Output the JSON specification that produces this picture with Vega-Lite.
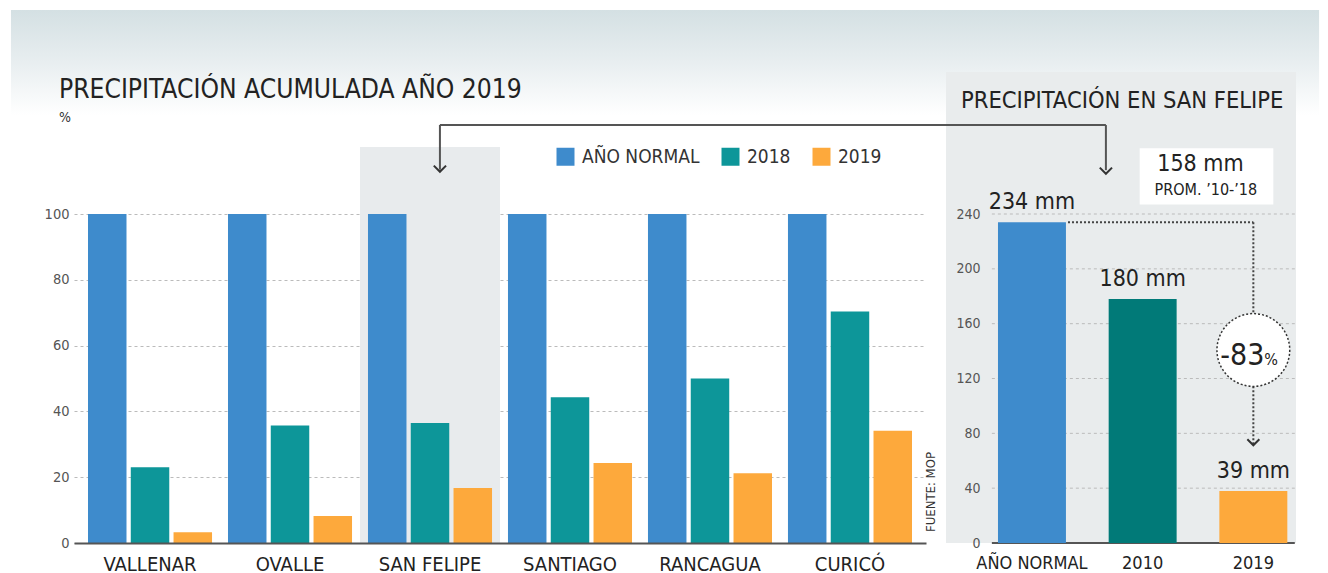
{
  "$schema": "https://vega.github.io/schema/vega-lite/v6.json",
  "padding": {"left": 10, "top": 10, "right": 0, "bottom": 0},
  "bounds": "flush",
  "spacing": 20,
  "background": "#ffffff",
  "config": {
    "font": "'DejaVu Sans Condensed', Roboto, sans-serif",
    "view": {"stroke": null},
    "axis": {"labelFont": "'DejaVu Sans Condensed', Roboto, sans-serif", "titleFont": "'DejaVu Sans Condensed', Roboto, sans-serif"},
    "legend": {"labelFont": "'DejaVu Sans Condensed', Roboto, sans-serif"},
    "title": {"font": "'DejaVu Sans Condensed', Roboto, sans-serif"}
  },
  "datasets": {
    "ciudades": [
      {"ciudad": "VALLENAR", "serie": "AÑO NORMAL", "valor": 100},
      {"ciudad": "VALLENAR", "serie": "2018", "valor": 23},
      {"ciudad": "VALLENAR", "serie": "2019", "valor": 3.3},
      {"ciudad": "OVALLE", "serie": "AÑO NORMAL", "valor": 100},
      {"ciudad": "OVALLE", "serie": "2018", "valor": 35.7},
      {"ciudad": "OVALLE", "serie": "2019", "valor": 8.2},
      {"ciudad": "SAN FELIPE", "serie": "AÑO NORMAL", "valor": 100},
      {"ciudad": "SAN FELIPE", "serie": "2018", "valor": 36.5},
      {"ciudad": "SAN FELIPE", "serie": "2019", "valor": 16.7},
      {"ciudad": "SANTIAGO", "serie": "AÑO NORMAL", "valor": 100},
      {"ciudad": "SANTIAGO", "serie": "2018", "valor": 44.3},
      {"ciudad": "SANTIAGO", "serie": "2019", "valor": 24.3},
      {"ciudad": "RANCAGUA", "serie": "AÑO NORMAL", "valor": 100},
      {"ciudad": "RANCAGUA", "serie": "2018", "valor": 50},
      {"ciudad": "RANCAGUA", "serie": "2019", "valor": 21.2},
      {"ciudad": "CURICÓ", "serie": "AÑO NORMAL", "valor": 100},
      {"ciudad": "CURICÓ", "serie": "2018", "valor": 70.4},
      {"ciudad": "CURICÓ", "serie": "2019", "valor": 34.1}
    ],
    "sanfelipe": [
      {"periodo": "AÑO NORMAL", "mm": 234, "etiqueta": "234 mm"},
      {"periodo": "2010", "mm": 178, "etiqueta": "180 mm"},
      {"periodo": "2019", "mm": 38, "etiqueta": "39 mm"}
    ],
    "grilla": [
      {"g": 40}, {"g": 80}, {"g": 120}, {"g": 160}, {"g": 200}, {"g": 240}
    ],
    "uno": [{}]
  },
  "resolve": {"scale": {"color": "independent", "x": "independent", "y": "independent"}, "legend": {"color": "independent"}},
  "hconcat": [
    {
      "width": 852,
      "height": 471,
      "title": {"text": "PRECIPITACIÓN ACUMULADA AÑO 2019", "anchor": "start", "frame": "group", "offset": -93, "dx": -15, "fontSize": 26.2, "fontWeight": "normal", "color": "#222222"},
      "layer": [
        {
          "data": {"name": "uno"},
          "mark": {"type": "rect", "clip": false, "color": {"gradient": "linear", "x1": 0, "y1": 0, "x2": 0, "y2": 1, "stops": [{"offset": 0, "color": "#d4e0e3"}, {"offset": 0.5, "color": "#e8eef0"}, {"offset": 1, "color": "#ffffff"}]}},
          "encoding": {
            "x": {"datum": "VALLENAR", "bandPosition": -0.621, "type": "nominal"},
            "x2": {"datum": "CURICÓ", "bandPosition": 4.282},
            "y": {"datum": 162.05, "type": "quantitative"},
            "y2": {"datum": 130.1}
          }
        },
        {
          "data": {"values": [{"ciudad": "SAN FELIPE"}]},
          "mark": {"type": "bar", "color": "#e8ebed", "width": {"band": 1.129}},
          "encoding": {
            "x": {"field": "ciudad", "type": "nominal"},
            "y": {"datum": 120.4, "type": "quantitative"},
            "y2": {"datum": 0}
          }
        },
        {
          "data": {"name": "ciudades"},
          "mark": {"type": "bar"},
          "encoding": {
            "x": {"field": "ciudad", "type": "nominal", "sort": null,
                  "scale": {"domain": ["VALLENAR", "OVALLE", "SAN FELIPE", "SANTIAGO", "RANCAGUA", "CURICÓ"], "paddingInner": 0.114, "paddingOuter": 0.1},
                  "axis": {"title": null, "labelAngle": 0, "labelAlign": "center", "labelBaseline": "top", "labelFontSize": 20, "labelColor": "#222222", "labelPadding": 11, "ticks": false, "domain": true, "domainColor": "#555555", "domainWidth": 2, "grid": false}},
            "xOffset": {"field": "serie", "type": "nominal", "scale": {"domain": ["AÑO NORMAL", "2018", "2019"], "paddingInner": 0.1, "paddingOuter": 0}},
            "y": {"field": "valor", "type": "quantitative",
                  "scale": {"domain": [0, 143.2], "nice": false},
                  "axis": {"values": [0, 20, 40, 60, 80, 100], "title": null,
                           "labelFontSize": 14.5, "labelColor": "#555555", "labelPadding": 5, "ticks": false, "domain": false, "grid": true, "gridDash": [3, 3], "gridColor": "#bbbbbb", "gridWidth": 1}},
            "color": {"field": "serie", "type": "nominal",
                      "scale": {"domain": ["AÑO NORMAL", "2018", "2019"], "range": ["#3e8bcc", "#0d9699", "#fda93c"]},
                      "legend": {"title": null, "orient": "none", "legendX": 482, "legendY": 75, "direction": "horizontal", "symbolType": "square", "symbolSize": 324, "symbolStrokeWidth": 0, "symbolOpacity": 1, "labelFontSize": 19, "labelColor": "#333333", "labelOffset": 7, "columnPadding": 21}}
          }
        },
        {
          "data": {"name": "uno"},
          "mark": {"type": "text", "fontSize": 14, "color": "#333333", "align": "left", "baseline": "alphabetic"},
          "encoding": {
            "x": {"datum": "VALLENAR", "bandPosition": -0.234},
            "y": {"datum": 128},
            "text": {"value": "%"}
          }
        },
        {
          "data": {"name": "uno"},
          "mark": {"type": "rule", "color": "#555555", "strokeWidth": 2},
          "encoding": {
            "x": {"datum": "SAN FELIPE", "bandPosition": 0.58},
            "y": {"datum": 127.1},
            "y2": {"datum": 113.5}
          }
        },
        {
          "data": {"name": "uno"},
          "mark": {"type": "rule", "color": "#555555", "strokeWidth": 2, "clip": false},
          "encoding": {
            "x": {"datum": "SAN FELIPE", "bandPosition": 0.58},
            "x2": {"datum": "CURICÓ", "bandPosition": 1.274},
            "y": {"datum": 127.1}
          }
        },
        {
          "data": {"name": "uno"},
          "mark": {"type": "point", "shape": "M-1,-0.5L0,0.5L1,-0.5", "filled": false, "stroke": "#333333", "strokeWidth": 2, "size": 150, "opacity": 1},
          "encoding": {
            "x": {"datum": "SAN FELIPE", "bandPosition": 0.58},
            "y": {"datum": 113.8}
          }
        },
        {
          "data": {"name": "uno"},
          "mark": {"type": "text", "angle": 270, "fontSize": 13, "color": "#333333", "align": "center", "baseline": "middle"},
          "encoding": {
            "x": {"datum": "CURICÓ", "bandPosition": 1.153},
            "y": {"datum": 15.5},
            "text": {"value": "FUENTE: MOP"}
          }
        }
      ]
    },
    {
      "width": 350,
      "height": 471,
      "view": {"fill": "#e9eced", "stroke": null},
      "title": {"text": "PRECIPITACIÓN EN SAN FELIPE", "anchor": "start", "frame": "group", "offset": -40, "dx": 15, "fontSize": 23.5, "fontWeight": "normal", "color": "#222222"},
      "layer": [
        {
          "data": {"name": "grilla"},
          "mark": {"type": "rule", "color": "#bbbbbb", "strokeWidth": 1, "strokeDash": [3, 3]},
          "encoding": {
            "x": {"datum": "AÑO NORMAL", "bandPosition": -0.09, "type": "nominal",
                  "scale": {"domain": ["AÑO NORMAL", "2010", "2019"], "paddingInner": 0.386, "paddingOuter": 0.274, "align": 0.857}},
            "x2": {"datum": "2019", "bandPosition": 1.11},
            "y": {"field": "g", "type": "quantitative", "scale": {"domain": [0, 343.6], "nice": false}}
          }
        },
        {
          "data": {"name": "uno"},
          "mark": {"type": "rule", "color": "#555555", "strokeWidth": 2},
          "encoding": {
            "x": {"datum": "AÑO NORMAL", "bandPosition": -0.09},
            "x2": {"datum": "2019", "bandPosition": 1.11},
            "y": {"datum": 0}
          }
        },
        {
          "data": {"name": "sanfelipe"},
          "mark": {"type": "bar"},
          "encoding": {
            "x": {"field": "periodo", "type": "nominal", "sort": null,
                  "axis": {"title": null, "labelAngle": 0, "labelAlign": "center", "labelBaseline": "top", "labelFontSize": 18, "labelColor": "#222222", "labelPadding": 11, "ticks": false, "domain": false, "grid": false}},
            "y": {"field": "mm", "type": "quantitative",
                  "axis": {"values": [0, 40, 80, 120, 160, 200, 240], "title": null, "offset": -38, "labelAlign": "right", "labelFontSize": 14, "labelColor": "#555555", "labelPadding": 4, "ticks": false, "domain": false, "grid": false}},
            "color": {"field": "periodo", "type": "nominal", "legend": null,
                      "scale": {"domain": ["AÑO NORMAL", "2010", "2019"], "range": ["#3e8bcc", "#017a78", "#fda93c"]}}
          }
        },
        {
          "data": {"name": "sanfelipe"},
          "mark": {"type": "text", "fontSize": 23, "color": "#222222", "baseline": "bottom", "dy": -8},
          "encoding": {
            "x": {"field": "periodo", "type": "nominal"},
            "y": {"field": "mm", "type": "quantitative"},
            "text": {"field": "etiqueta"}
          }
        },
        {
          "data": {"name": "uno"},
          "mark": {"type": "rect", "color": "#ffffff"},
          "encoding": {
            "x": {"datum": "2010", "bandPosition": 0.456},
            "x2": {"datum": "2019", "bandPosition": 0.794},
            "y": {"datum": 288},
            "y2": {"datum": 247}
          }
        },
        {
          "data": {"name": "uno"},
          "mark": {"type": "text", "fontSize": 23, "color": "#222222", "baseline": "middle"},
          "encoding": {
            "x": {"datum": "2010", "bandPosition": 1.35},
            "y": {"datum": 276.5},
            "text": {"value": "158 mm"}
          }
        },
        {
          "data": {"name": "uno"},
          "mark": {"type": "text", "fontSize": 16, "color": "#222222", "baseline": "middle"},
          "encoding": {
            "x": {"datum": "2010", "bandPosition": 1.43},
            "y": {"datum": 257.5},
            "text": {"value": "PROM. ’10-’18"}
          }
        },
        {
          "data": {"name": "uno"},
          "mark": {"type": "rule", "color": "#444444", "strokeWidth": 2, "strokeDash": [2, 2]},
          "encoding": {
            "x": {"datum": "AÑO NORMAL", "bandPosition": 1.03},
            "x2": {"datum": "2019", "bandPosition": 0.5},
            "y": {"datum": 234}
          }
        },
        {
          "data": {"name": "uno"},
          "mark": {"type": "rule", "color": "#444444", "strokeWidth": 2, "strokeDash": [2, 2]},
          "encoding": {
            "x": {"datum": "2019", "bandPosition": 0.5},
            "y": {"datum": 234},
            "y2": {"datum": 72}
          }
        },
        {
          "data": {"name": "uno"},
          "mark": {"type": "point", "shape": "circle", "filled": true, "fill": "#ffffff", "stroke": "#333333", "strokeWidth": 1.5, "strokeDash": [2, 2], "size": 5300, "opacity": 1, "fillOpacity": 1},
          "encoding": {
            "x": {"datum": "2019", "bandPosition": 0.5},
            "y": {"datum": 140.8}
          }
        },
        {
          "data": {"name": "uno"},
          "mark": {"type": "text", "fontSize": 30, "color": "#222222", "baseline": "alphabetic", "align": "right", "dx": 11},
          "encoding": {
            "x": {"datum": "2019", "bandPosition": 0.5},
            "y": {"datum": 129.5},
            "text": {"value": "-83"}
          }
        },
        {
          "data": {"name": "uno"},
          "mark": {"type": "text", "fontSize": 16, "color": "#222222", "baseline": "alphabetic", "align": "left", "dx": 11},
          "encoding": {
            "x": {"datum": "2019", "bandPosition": 0.5},
            "y": {"datum": 129.5},
            "text": {"value": "%"}
          }
        },
        {
          "data": {"name": "uno"},
          "mark": {"type": "point", "shape": "M-1,-0.5L0,0.5L1,-0.5", "filled": false, "stroke": "#333333", "strokeWidth": 2, "size": 144, "opacity": 1},
          "encoding": {
            "x": {"datum": "2019", "bandPosition": 0.5},
            "y": {"datum": 73.5}
          }
        },
        {
          "data": {"name": "uno"},
          "mark": {"type": "rule", "color": "#555555", "strokeWidth": 2},
          "encoding": {
            "x": {"datum": "AÑO NORMAL", "bandPosition": -0.765},
            "x2": {"datum": "AÑO NORMAL", "bandPosition": 1.588},
            "y": {"datum": 304.9}
          }
        },
        {
          "data": {"name": "uno"},
          "mark": {"type": "rule", "color": "#555555", "strokeWidth": 2},
          "encoding": {
            "x": {"datum": "AÑO NORMAL", "bandPosition": 1.588},
            "y": {"datum": 304.9},
            "y2": {"datum": 272}
          }
        },
        {
          "data": {"name": "uno"},
          "mark": {"type": "point", "shape": "M-1,-0.5L0,0.5L1,-0.5", "filled": false, "stroke": "#333333", "strokeWidth": 2, "size": 150, "opacity": 1},
          "encoding": {
            "x": {"datum": "AÑO NORMAL", "bandPosition": 1.588},
            "y": {"datum": 271.6}
          }
        }
      ]
    }
  ]
}
